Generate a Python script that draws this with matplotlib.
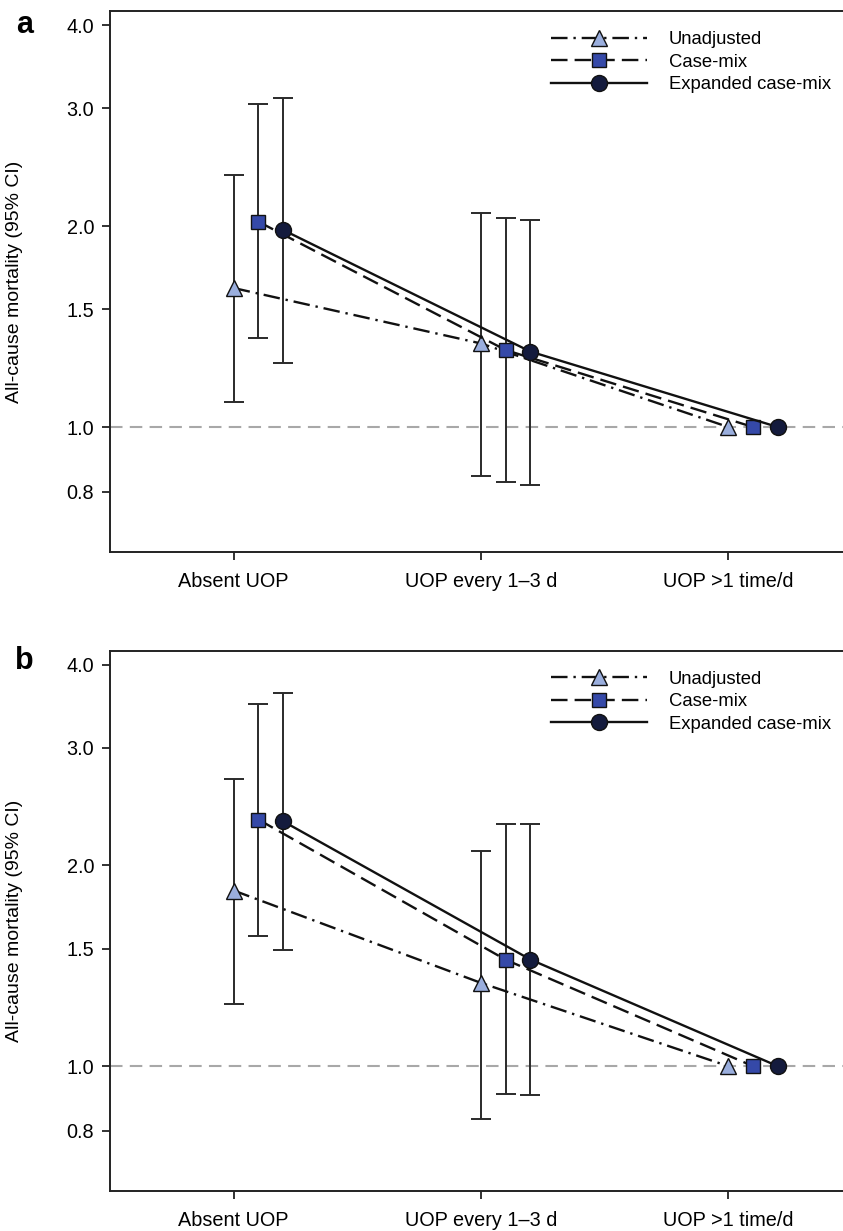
import matplotlib.pyplot as plt

plt.rcParams['font.family'] = ['Liberation Sans', 'DejaVu Sans']

categories = ['Absent UOP', 'UOP every 1\u20133 d', 'UOP >1 time/d']
series = ['Unadjusted', 'Case-mix', 'Expanded case-mix']

# panel a: hazard ratio, lower CI, upper CI (reference group has no CI)
a_hr = [[1.615, 1.334, 1.0], [2.03, 1.304, 1.0], [1.973, 1.297, 1.0]]
a_lo = [[1.091, 0.845, None], [1.358, 0.827, None], [1.247, 0.819, None]]
a_hi = [[2.387, 2.089, None], [3.046, 2.054, None], [3.113, 2.042, None]]

# panel b
b_hr = [[1.834, 1.333, 1.0], [2.343, 1.444, 1.0], [2.329, 1.445, 1.0]]
b_lo = [[1.24, 0.833, None], [1.57, 0.908, None], [1.496, 0.905, None]]
b_hi = [[2.692, 2.105, None], [3.496, 2.308, None], [3.622, 2.308, None]]

yticks = [0.8, 1.0, 1.5, 2.0, 3.0, 4.0]

styles = [
    dict(marker='^', ms=11, mfc='#9aaedd', ls=(0, (7, 2.5, 1, 2.5)), offset=0.0),
    dict(marker='s', ms=9.5, mfc='#3549a8', ls=(0, (7, 3)), offset=0.1),
    dict(marker='o', ms=11.5, mfc='#141b3d', ls='-', offset=0.2),
]


def draw_panel(ax, hr, lo, hi):
    ax.set_yscale('log')
    ax.axhline(1.0, color='#a8a8a8', lw=1.5, ls=(0, (6, 3.5)), zorder=1)
    for i, name in enumerate(series):
        st = styles[i]
        xs = [k + 1 + st['offset'] for k in range(len(categories))]
        # confidence intervals
        for k in range(len(categories)):
            if lo[i][k] is None:
                continue
            ax.errorbar(xs[k], hr[i][k],
                        yerr=[[hr[i][k] - lo[i][k]], [hi[i][k] - hr[i][k]]],
                        fmt='none', ecolor='#2a2a2a', elinewidth=1.4,
                        capsize=7, capthick=1.4, zorder=2)
        ax.plot(xs, hr[i], color='#111111', lw=1.7, ls=st['ls'],
                marker=st['marker'], ms=st['ms'], mfc=st['mfc'],
                mec='#111111', mew=1.0, label=name, zorder=3 + i)

    ax.set_xlim(0.5, 3.5)
    ax.set_ylim(0.6505, 4.197)
    ax.set_yticks(yticks)
    ax.set_yticklabels(['%.1f' % v for v in yticks])
    ax.minorticks_off()
    ax.set_xticks([1, 2, 3])
    ax.set_xticklabels(categories)
    ax.tick_params(axis='both', direction='out', length=5.5, width=1.3,
                   labelsize=14.3, color='#222222')
    ax.tick_params(axis='x', pad=9)
    ax.tick_params(axis='y', pad=6)
    for sp in ax.spines.values():
        sp.set_linewidth(1.4)
        sp.set_color('#222222')
    ax.set_ylabel('All-cause mortality (95% CI)', fontsize=14)
    ax.yaxis.set_label_coords(-0.117, 0.5)
    ax.legend(loc='upper left', bbox_to_anchor=(0.594, 0.963), frameon=False,
              fontsize=13.3, handlelength=5.2, handletextpad=1.2,
              labelspacing=0.3, borderpad=0, borderaxespad=0)


fig = plt.figure(figsize=(8.43, 12.31), dpi=100)
ax1 = fig.add_axes([0.1305, 0.5518, 0.8802, 0.4392])
ax2 = fig.add_axes([0.1305, 0.0327, 0.8802, 0.4387])

draw_panel(ax1, a_hr, a_lo, a_hi)
draw_panel(ax2, b_hr, b_lo, b_hi)

fig.text(24.7 / 843, 1 - 25 / 1231, 'a', fontsize=22, fontweight='bold',
         ha='center', va='center')
fig.text(24.7 / 843, 1 - 661 / 1231, 'b', fontsize=22, fontweight='bold',
         ha='center', va='center')

fig.savefig('out.png', dpi=100)
